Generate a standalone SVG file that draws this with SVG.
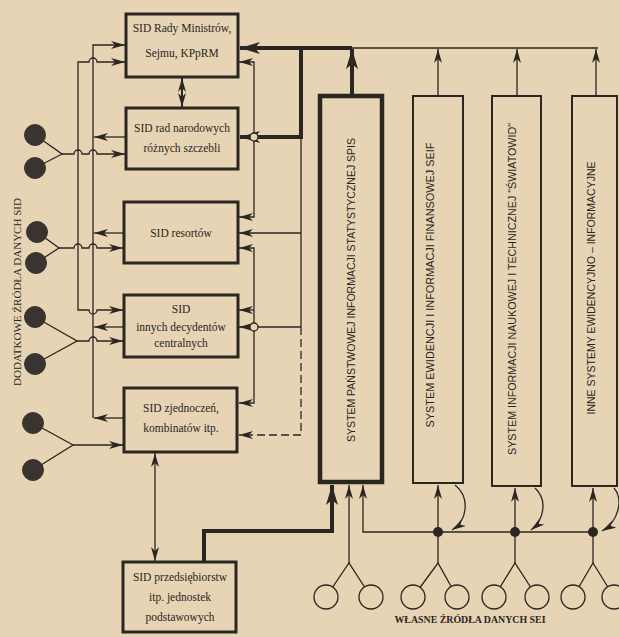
<svg xmlns="http://www.w3.org/2000/svg" width="619" height="637" viewBox="0 0 619 637">
<defs>
<style>
.bg{fill:#e6d4b4}
.box{fill:none;stroke:#2b2622;stroke-width:3}
.sys{fill:none;stroke:#2b2622;stroke-width:2}
.ln{fill:none;stroke:#2b2622;stroke-width:1.3}
.thk{fill:none;stroke:#2b2622;stroke-width:4}
.dash{fill:none;stroke:#2b2622;stroke-width:1.3;stroke-dasharray:8 4}
.src{fill:#3a3430;stroke:#3a3430}
.own{fill:#e6d4b4;stroke:#2b2622;stroke-width:1.3}
.dot{fill:#2b2622}
.br{fill:#e6d4b4;stroke:#2b2622;stroke-width:1.3}
.t{font-family:"Liberation Serif",serif;font-size:11.5px;fill:#2b2622;text-anchor:middle}
.v{font-family:"Liberation Sans",sans-serif;font-size:11px;fill:#2b2622;text-anchor:middle}
.lab{font-family:"Liberation Serif",serif;font-size:11px;fill:#2b2622;text-anchor:middle}
</style>
<marker id="a" viewBox="0 0 14 8" refX="14" refY="4" markerUnits="userSpaceOnUse" markerWidth="14" markerHeight="8" orient="auto-start-reverse">
<path d="M0,0 L14,4 L0,8 L4,4 z" fill="#2b2622"/>
</marker>
<marker id="A" viewBox="0 0 20 12" refX="20" refY="6" markerUnits="userSpaceOnUse" markerWidth="20" markerHeight="12" orient="auto-start-reverse">
<path d="M0,0 L20,6 L0,12 L5,6 z" fill="#2b2622"/>
</marker>
</defs>
<rect class="bg" x="0" y="0" width="619" height="637"/>

<g id="connectors">
<!-- left bus A (reports up to box1) -->
<path class="ln" d="M93 418 L93 45 L125 45" marker-end="url(#a)"/>
<path class="ln" d="M126 137 L94 137" marker-end="url(#a)"/>
<path class="ln" d="M124 233 L94 233" marker-end="url(#a)"/>
<path class="ln" d="M124 327 L94 327" marker-end="url(#a)"/>
<path class="ln" d="M124 418 L94 418" marker-end="url(#a)"/>
<!-- left bus B -->
<path class="ln" d="M123 310 L97 310 A4 4 0 0 1 89 310 L78 310 L78 62 L89 62 A4 4 0 0 1 97 62 L125 62" marker-start="url(#a)" marker-end="url(#a)"/>
<!-- sources into boxes -->
<path class="ln" d="M35 135 L62 154 L35 168"/>
<path class="ln" d="M62 154 L74 154 A4 4 0 0 1 82 154 L89 154 A4 4 0 0 1 97 154 L125 154" marker-end="url(#a)"/>
<path class="ln" d="M37 232 L59 248 L36 263"/>
<path class="ln" d="M59 248 L74 248 A4 4 0 0 1 82 248 L89 248 A4 4 0 0 1 97 248 L123 248" marker-end="url(#a)"/>
<path class="ln" d="M35 317 L77 341 L35 364"/>
<path class="ln" d="M77 341 L89 341 A4 4 0 0 1 97 341 L123 341" marker-end="url(#a)"/>
<path class="ln" d="M33 423 L73 445 L33 470"/>
<path class="ln" d="M73 445 L123 445" marker-end="url(#a)"/>
<!-- box1 <-> box2 -->
<path class="ln" style="stroke-width:2" d="M182 78 L182 107" marker-start="url(#a)" marker-end="url(#a)"/>
<!-- box5 <-> box6 -->
<path class="ln" d="M155 453 L155 561" marker-start="url(#a)" marker-end="url(#a)"/>
<!-- right side thick -->
<path class="thk" d="M352 48 L240 48" marker-end="url(#A)"/>
<path class="thk" d="M301 48 L301 137 L240 137" marker-end="url(#A)"/>
<path class="thk" d="M352 95 L352 49" marker-end="url(#A)"/>
<path class="ln" d="M352 48 L598 48"/>
<path class="ln" d="M438 95 L438 49" marker-end="url(#a)"/>
<path class="ln" d="M517 95 L517 49" marker-end="url(#a)"/>
<path class="ln" d="M596 95 L596 49" marker-end="url(#a)"/>
<!-- right thin verticals -->
<path class="ln" d="M301 137 L301 327"/>
<path class="ln" d="M301 233 L239 233" marker-end="url(#a)"/>
<path class="ln" d="M301 327 L239 327" marker-end="url(#a)"/>
<path class="dash" d="M301 327 L301 435 L239 435" marker-end="url(#a)"/>
<path class="ln" d="M239 62 L254 62 L254 217 L239 217" marker-start="url(#a)" marker-end="url(#a)"/>
<path class="ln" d="M239 248 L254 248 L254 403 L239 403" marker-start="url(#a)" marker-end="url(#a)"/>
<path class="ln" d="M254 310 L239 310" marker-end="url(#a)"/>
<circle class="br" cx="254" cy="137" r="4"/>
<circle class="br" cx="254" cy="327" r="4"/>
<!-- bottom -->
<path class="thk" d="M204 562 L204 531 L332 531 L332 485" marker-end="url(#A)"/>
<path class="ln" d="M349 563 L349 485" marker-end="url(#a)"/>
<path class="ln" d="M598 532 L363 532 L363 485" marker-end="url(#a)"/>
<path class="ln" d="M438 563 L438 485" marker-end="url(#a)"/>
<path class="ln" d="M515 563 L515 488" marker-end="url(#a)"/>
<path class="ln" d="M593 563 L593 488" marker-end="url(#a)"/>
<path class="ln" d="M455 485 C470 497 468 520 452 530" marker-end="url(#a)"/>
<path class="ln" d="M535 488 C548 500 544 520 531 530" marker-end="url(#a)"/>
<path class="ln" d="M614 488 C624 500 618 522 602 531" marker-end="url(#a)"/>
<circle class="dot" cx="438" cy="532" r="5"/>
<circle class="dot" cx="515" cy="532" r="5"/>
<circle class="dot" cx="593" cy="532" r="5"/>
<path class="ln" d="M326 597 L349 563 L371 597"/>
<path class="ln" d="M413 597 L438 563 L457 597"/>
<path class="ln" d="M494 597 L515 563 L537 597"/>
<path class="ln" d="M573 597 L593 563 L614 597"/>
</g>

<g id="sources-left">
<circle class="src" cx="35" cy="135" r="10.5"/>
<circle class="src" cx="35" cy="168" r="10.5"/>
<circle class="src" cx="37" cy="232" r="10.5"/>
<circle class="src" cx="36" cy="263" r="10.5"/>
<circle class="src" cx="35" cy="317" r="10.5"/>
<circle class="src" cx="35" cy="364" r="10.5"/>
<circle class="src" cx="33" cy="423" r="10.5"/>
<circle class="src" cx="33" cy="470" r="10.5"/>
<text class="lab" transform="translate(21,292) rotate(-90)" textLength="188" lengthAdjust="spacingAndGlyphs">DODATKOWE ŹRÓDŁA DANYCH SID</text>
</g>

<g id="sources-bottom">
<circle class="own" cx="326" cy="597" r="12"/>
<circle class="own" cx="371" cy="597" r="12"/>
<circle class="own" cx="413" cy="597" r="12"/>
<circle class="own" cx="457" cy="597" r="12"/>
<circle class="own" cx="494" cy="597" r="12"/>
<circle class="own" cx="537" cy="597" r="12"/>
<circle class="own" cx="573" cy="597" r="12"/>
<circle class="own" cx="614" cy="597" r="12"/>
<text class="lab" x="470" y="623" style="font-size:10px;font-weight:bold" textLength="151" lengthAdjust="spacingAndGlyphs">WŁASNE ŹRÓDŁA DANYCH SEI</text>
</g>

<g id="sid-rm">
<rect class="box" x="126" y="14" width="112" height="63"/>
<text class="t" x="182" y="32">SID Rady Ministrów,</text>
<text class="t" x="182" y="57">Sejmu, KPpRM</text>
</g>
<g id="sid-rn">
<rect class="box" x="126" y="108" width="112" height="61"/>
<text class="t" x="182" y="132">SID rad narodowych</text>
<text class="t" x="182" y="152">różnych szczebli</text>
</g>
<g id="sid-resorty">
<rect class="box" x="124" y="202" width="114" height="61"/>
<text class="t" x="181" y="237">SID resortów</text>
</g>
<g id="sid-decydenci">
<rect class="box" x="124" y="295" width="114" height="62"/>
<text class="t" x="181" y="313">SID</text>
<text class="t" x="181" y="331">innych decydentów</text>
<text class="t" x="181" y="347">centralnych</text>
</g>
<g id="sid-zjednoczenia">
<rect class="box" x="124" y="388" width="113" height="64"/>
<text class="t" x="181" y="412">SID zjednoczeń,</text>
<text class="t" x="181" y="432">kombinatów itp.</text>
</g>
<g id="sid-przedsiebiorstwa">
<rect class="box" x="123" y="562" width="113" height="70"/>
<text class="t" x="180" y="581">SID przedsiębiorstw</text>
<text class="t" x="180" y="601">itp. jednostek</text>
<text class="t" x="180" y="621">podstawowych</text>
</g>

<g id="spis">
<rect class="sys" style="stroke-width:4.5" x="320" y="96" width="62" height="386"/>
<text class="v" transform="translate(355,290) rotate(-90)" textLength="304" lengthAdjust="spacingAndGlyphs">SYSTEM PAŃSTWOWEJ INFORMACJI STATYSTYCZNEJ SPIS</text>
</g>
<g id="seif">
<rect class="sys" x="413" y="96" width="50" height="387"/>
<text class="v" transform="translate(434,285) rotate(-90)" textLength="285" lengthAdjust="spacingAndGlyphs">SYSTEM EWIDENCJI  I  INFORMACJI FINANSOWEJ SEIF</text>
</g>
<g id="swiatowid">
<rect class="sys" x="492" y="96" width="49" height="390"/>
<text class="v" transform="translate(516,289) rotate(-90)" textLength="332" lengthAdjust="spacingAndGlyphs">SYSTEM INFORMACJI NAUKOWEJ I TECHNICZNEJ "ŚWIATOWID"</text>
</g>
<g id="inne">
<rect class="sys" x="572" y="96" width="45" height="390"/>
<text class="v" transform="translate(595,288) rotate(-90)" textLength="253" lengthAdjust="spacingAndGlyphs">INNE SYSTEMY EWIDENCYJNO – INFORMACYJNE</text>
</g>
</svg>
